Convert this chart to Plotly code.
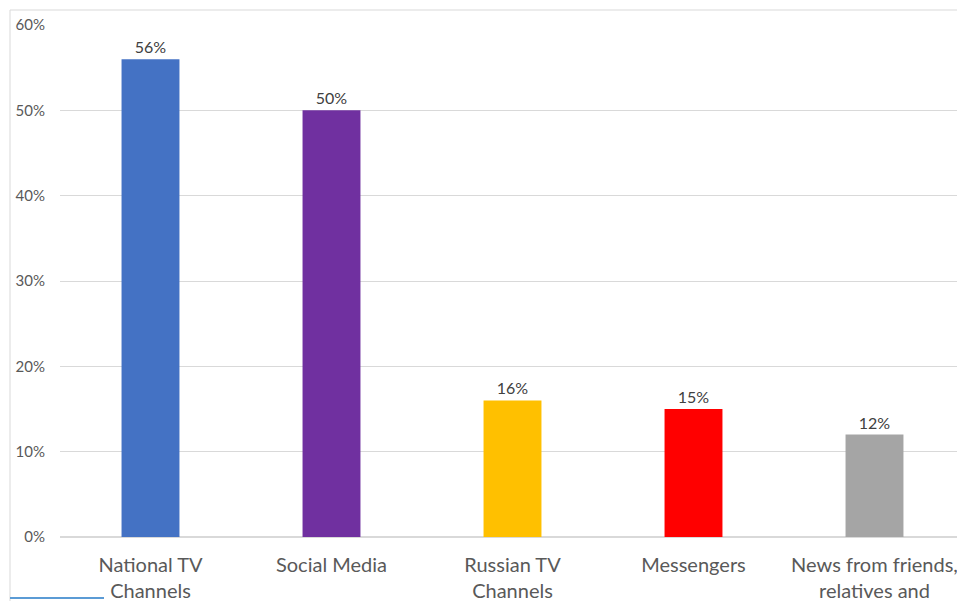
import plotly.graph_objects as go

categories = ["National TV<br>Channels", "Social Media", "Russian TV<br>Channels",
              "Messengers", "News from friends,<br>relatives and"]
values = [0.56, 0.50, 0.16, 0.15, 0.12]
colors = ["#4472C4", "#7030A0", "#FFC000", "#FF0000", "#A5A5A5"]
labels = [f"{round(v*100)}%" for v in values]

# page body has an 8px offset, so the figure is sized to fit the window
OFF = 8
W, H = 965 - OFF, 601 - OFF
ml, mr, mt, mb = 60 - OFF, 0, 25 - OFF, 64
pw, ph = W - ml - mr, H - mt - mb

def px_x(px):
    return (px - OFF - ml) / pw

def px_y(py):
    return (H - mb - (py - OFF)) / ph

fig = go.Figure(go.Bar(
    x=categories, y=values, marker_color=colors, marker_line_width=0,
    text=labels, textposition="outside", cliponaxis=False,
    textfont=dict(family="Lato, Carlito, sans-serif", size=16, color="#404040"),
))

fig.update_layout(
    width=W, height=H,
    margin=dict(l=ml, r=mr, t=mt, b=mb, autoexpand=False),
    paper_bgcolor="white", plot_bgcolor="white",
    bargap=0.68, showlegend=False,
    font=dict(family="Lato, Carlito, sans-serif", color="#595959"),
    shapes=[
        dict(type="line", xref="paper", yref="paper", x0=px_x(10), x1=px_x(10),
             y0=px_y(10), y1=px_y(601), line=dict(color="#d9d9d9", width=1)),
        dict(type="line", xref="paper", yref="paper", x0=px_x(10), x1=px_x(965),
             y0=px_y(10), y1=px_y(10), line=dict(color="#d9d9d9", width=1)),
        dict(type="line", xref="paper", yref="paper", x0=px_x(10), x1=px_x(104),
             y0=px_y(598), y1=px_y(598), line=dict(color="#5B9BD5", width=2)),
    ],
)
fig.update_yaxes(range=[0, 0.6], dtick=0.1, tickformat=".0%", showgrid=True,
                 gridcolor="#d9d9d9", gridwidth=1, zeroline=True, zerolinecolor="#d9d9d9",
                 showline=False, ticks="", ticklabelstandoff=14,
                 tickfont=dict(size=15, color="#595959"))
fig.update_xaxes(showline=False, ticks="", tickangle=0, ticklabelstandoff=14,
                 tickfont=dict(size=20, color="#595959"))

fig.write_html("out.html")
